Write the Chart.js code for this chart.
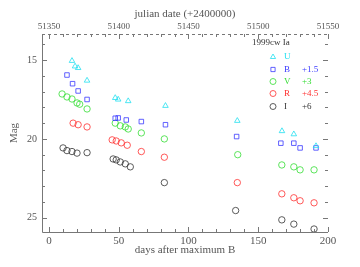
<html>
<body style="margin:0;background:#fff">
<div style="width:360px;height:267px">
    <canvas id="myChart" width="360" height="267"></canvas>
</div>
<script src="https://cdn.jsdelivr.net/npm/chart.js@4.4.1/dist/chart.umd.min.js"></script>
<script>
    // light curves of SN 1999cw, magnitudes with offsets already added
    const uDays = [16.5, 18.7, 20.9, 27.3, 47.5, 49.6, 56.8, 83.5, 135, 167, 175.5, 191.4];
    const uMags = [15.05, 15.4, 15.5, 16.3, 17.4, 17.5, 17.6, 17.9, 18.85, 19.5, 19.7, 20.45];
    const bDays = [12.9, 16.9, 20.9, 27.3, 47.5, 49.6, 55.4, 66.2, 83.5, 134.5, 166.2, 175.5, 180, 191.4];
    const bMags = [15.95, 16.5, 16.96, 17.5, 18.69, 18.67, 18.8, 18.9, 19.1, 19.85, 20.27, 20.27, 20.57, 20.57];
    const vDays = [9.4, 12.9, 16.5, 20.1, 22, 27.3, 47.5, 51.1, 54.7, 56.8, 66.2, 82.7, 135.3, 166.9, 175.5, 180, 190];
    const vMags = [17.15, 17.34, 17.47, 17.72, 17.8, 18.1, 19.0, 19.17, 19.24, 19.37, 19.62, 20.0, 21.0, 21.65, 21.77, 21.96, 21.96];
    const rDays = [17.3, 20.9, 27.3, 45.3, 48.2, 51.8, 56.1, 66.2, 82.7, 135, 166.9, 175.5, 180, 190];
    const rMags = [19.0, 19.1, 19.24, 20.06, 20.13, 20.25, 20.4, 20.8, 21.16, 22.77, 23.48, 23.73, 23.92, 24.05];
    const iDays = [10.1, 12.9, 16.5, 20.1, 27.3, 46, 48.2, 51.1, 54.7, 58.3, 82.7, 133.8, 166.9, 175.5, 190];
    const iMags = [20.57, 20.74, 20.8, 20.9, 20.87, 21.27, 21.33, 21.46, 21.58, 21.77, 22.77, 24.54, 25.13, 25.4, 25.71];

    const bands = ["U", "B", "V", "R", "I"];
    const offsets = ["", "+1.5", "+3", "+4.5", "+6"];
    const colors = ["#22e0f0", "#3a3aff", "#33dd33", "#ff3030", "#333333"];
    const styles = ["triangle", "rect", "circle", "circle", "circle"];
    const jdZero = 51350;

    const allDays = [uDays, bDays, vDays, rDays, iDays];
    const allMags = [uMags, bMags, vMags, rMags, iMags];

    const serif = "'Liberation Serif', 'DejaVu Serif', serif";
    const textCol = "#555";

    function pts(d, m) {
        return d.map((x, i) => ({x: x, y: m[i]}));
    }

    const frame = {
        id: "frame",
        afterDraw(chart) {
            const {ctx, chartArea: a, scales} = chart;
            ctx.save();
            ctx.strokeStyle = "#777";
            ctx.lineWidth = 1;
            ctx.beginPath();
            ctx.moveTo(a.left + 0.5, a.top);
            ctx.lineTo(a.left + 0.5, a.bottom + 0.5);
            ctx.lineTo(a.right, a.bottom + 0.5);
            ctx.stroke();
            ctx.setLineDash([3, 3]);
            ctx.beginPath();
            ctx.moveTo(a.left, a.top + 0.5);
            ctx.lineTo(a.right, a.top + 0.5);
            ctx.stroke();
            ctx.setLineDash([]);
            ctx.beginPath();
            scales.x.ticks.forEach(t => {
                const px = Math.round(scales.x.getPixelForValue(t.value)) + 0.5;
                const len = t.value % 50 === 0 ? 5 : 3;
                ctx.moveTo(px, a.bottom);
                ctx.lineTo(px, a.bottom - len);
                ctx.moveTo(px, a.top);
                ctx.lineTo(px, a.top + len);
            });
            scales.y.ticks.forEach(t => {
                const py = Math.round(scales.y.getPixelForValue(t.value)) + 0.5;
                const len = t.value % 5 === 0 ? 5 : 3;
                ctx.moveTo(a.left, py);
                ctx.lineTo(a.left + len, py);
                ctx.moveTo(a.right, py);
                ctx.lineTo(a.right - len, py);
            });
            ctx.stroke();

            // legend box in the upper right
            ctx.font = "9px " + serif;
            ctx.textBaseline = "middle";
            ctx.fillStyle = "#333";
            ctx.fillText("1999cw Ia", 252, 43);
            const rows = [57, 69.5, 81.5, 93.5, 106.5];
            bands.forEach((b, i) => {
                ctx.strokeStyle = colors[i];
                ctx.fillStyle = "rgba(0,0,0,0)";
                ctx.lineWidth = 0.8;
                Chart.helpers.drawPoint(ctx, {pointStyle: styles[i], radius: 3, borderWidth: 0.8, rotation: 0}, 273, rows[i]);
                ctx.fillStyle = colors[i];
                ctx.fillText(b, 284, rows[i]);
                ctx.fillText(offsets[i], 302, rows[i]);
            });
            ctx.restore();
        }
    };

    const xTicks = s => { s.ticks = []; for (let v = 0; v <= 200; v += 10) s.ticks.push({value: v}); };

    new Chart("myChart", {
        type: "scatter",
        data: {
            datasets: bands.map((b, i) => ({
                label: b,
                data: pts(allDays[i], allMags[i]),
                pointStyle: styles[i],
                pointRadius: 3.2,
                borderWidth: 0.8,
                borderColor: colors[i],
                backgroundColor: "rgba(0,0,0,0)",
                showLine: false
            }))
        },
        options: {
            responsive: false,
            animation: false,
            layout: {padding: {left: 0, right: 32, top: 0, bottom: 10}},
            plugins: {legend: {display: false}, tooltip: {enabled: false}},
            scales: {
                x: {
                    type: "linear", position: "bottom", min: -5, max: 200,
                    grid: {display: false, drawTicks: false}, border: {display: false},
                    afterBuildTicks: xTicks,
                    afterFit: s => { s.height = 25; },
                    ticks: {autoSkip: false, maxRotation: 0, padding: 3, color: textCol,
                        font: {family: serif, size: 11},
                        callback: v => v % 50 === 0 ? v : ""},
                    title: {display: true, text: "days after maximum B", color: textCol,
                        font: {family: serif, size: 11}, padding: 0}
                },
                x2: {
                    type: "linear", position: "top", min: -5, max: 200,
                    grid: {display: false, drawTicks: false}, border: {display: false},
                    afterBuildTicks: xTicks,
                    afterFit: s => { s.height = 34; },
                    ticks: {autoSkip: false, maxRotation: 0, padding: 2, color: textCol,
                        font: {family: serif, size: 9},
                        callback: v => v % 50 === 0 ? jdZero + v : ""},
                    title: {display: true, text: "julian date (+2400000)", color: textCol,
                        font: {family: serif, size: 11}, padding: {top: 8, bottom: 0}}
                },
                y: {
                    type: "linear", reverse: true, min: 13.35, max: 25.9,
                    grid: {display: false, drawTicks: false}, border: {display: false},
                    afterBuildTicks: s => { s.ticks = []; for (let v = 14; v <= 25; v++) s.ticks.push({value: v}); },
                    afterFit: s => { s.width = 42; },
                    ticks: {autoSkip: false, padding: 5, color: textCol,
                        font: {family: serif, size: 10},
                        callback: v => v % 5 === 0 ? v : ""},
                    title: {display: true, text: "Mag", color: textCol,
                        font: {family: serif, size: 11}, padding: {top: 8, bottom: 0}}
                }
            }
        },
        plugins: [frame]
    });
</script>
</body>
</html>
